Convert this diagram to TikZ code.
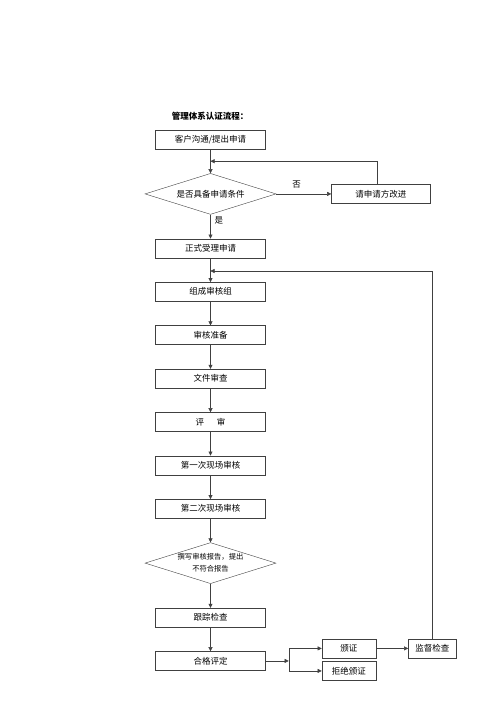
\documentclass[tikz,border=0pt]{standalone}
\usepackage{fontspec}
\newfontfamily\cjk{Noto Sans CJK SC}
\usetikzlibrary{shapes.geometric,arrows.meta,positioning}
\tikzset{
    stepbox/.style={rectangle, draw=black!75, minimum width=110pt, minimum height=19pt, inner sep=1pt, align=center, font=\cjk\fontsize{8.5}{10}\selectfont},
    smallbox/.style={stepbox, minimum width=54pt},
    decision/.style={diamond, aspect=3.2, draw=black!75, minimum width=131pt, minimum height=41pt, inner sep=0pt, align=center, font=\cjk\fontsize{8.5}{10}\selectfont},
    flow/.style={-{Triangle[length=4pt,width=4pt]}, draw=black!75},
    link/.style={draw=black!75},
    lbl/.style={inner sep=0pt, font=\cjk\fontsize{8.5}{10}\selectfont},
}
\begin{document}
\begin{tikzpicture}[x=1pt, y=1pt, node distance=24pt and 55pt]
    \useasboundingbox (0,0) rectangle (500,-707);
    \node[lbl, font=\cjk\bfseries\fontsize{8.5}{10}\selectfont] (title) at (210,-116) {管理体系认证流程：};
    \node[stepbox] (apply) at (210.5,-139.5) {客户沟通/提出申请};
    \node[decision, below=of apply] (cond) {是否具备申请条件};
    \node[stepbox, right=of cond, minimum width=99pt] (improve) {请申请方改进};
    \node[stepbox, below=of cond] (accept) {正式受理申请};
    \node[stepbox, below=of accept] (team) {组成审核组};
    \node[stepbox, below=of team] (prep) {审核准备};
    \node[stepbox, below=of prep] (docs) {文件审查};
    \node[stepbox, below=of docs] (review) {评\hspace{1.5em}审};
    \node[stepbox, below=of review] (site1) {第一次现场审核};
    \node[stepbox, below=of site1] (site2) {第二次现场审核};
    \node[decision, below=of site2, font=\cjk\fontsize{7.3}{12}\selectfont] (report) {撰写审核报告，提出\\不符合报告};
    \node[stepbox, below=of report] (track) {跟踪检查};
    \node[stepbox, below=of track] (pass) {合格评定};
    \coordinate[right=23pt of pass] (fork);
    \node[smallbox, right=33pt of fork, yshift=12.5pt] (cert) {颁证};
    \node[smallbox, right=33pt of fork, yshift=-10pt] (refuse) {拒绝颁证};
    \node[stepbox, right=32pt of cert, minimum width=48pt] (check) {监督检查};
    \coordinate[below=12pt of apply] (j1);
    \coordinate[below=13pt of accept] (j2);

    % labels on the decision
    \node[lbl, above right=6pt and 16pt of cond.east] (no) {否};
    \node[lbl, below right=2pt and 4pt of cond.south] (yes) {是};

    \draw[flow] (apply) -- (cond);
    \draw[flow] (cond) -- (improve);
    \draw[flow] ([xshift=-4pt]improve.north) |- (j1);
    \draw[flow] (cond) -- (accept);
    \draw[flow] (accept) -- (team);
    \draw[flow] (team) -- (prep);
    \draw[flow] (prep) -- (docs);
    \draw[flow] (docs) -- (review);
    \draw[flow] (review) -- (site1);
    \draw[flow] (site1) -- (site2);
    \draw[flow] (site2) -- (report);
    \draw[flow] (report) -- (track);
    \draw[flow] (track) -- (pass);
    \draw[flow] (pass) -- (fork);
    \draw[flow] (fork) |- (cert);
    \draw[flow] (fork) |- (refuse);
    \draw[flow] (cert) -- (check);
    \draw[flow] (check.north) |- (j2);
\end{tikzpicture}
\end{document}
